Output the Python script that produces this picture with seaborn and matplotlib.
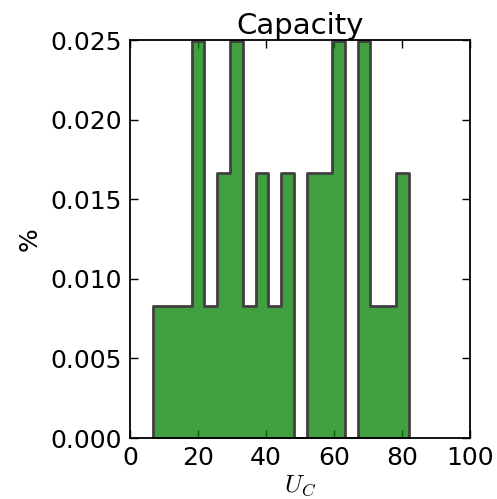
import matplotlib
matplotlib.use("Agg")
import matplotlib.pyplot as plt
import seaborn as sns
import numpy as np
import pandas as pd

# Bin centres (U_C) and counts
bin_centers = [8.74, 12.49, 16.25, 20.01, 23.77, 27.52, 31.28, 35.04, 38.80, 42.55,
               46.31, 50.07, 53.82, 57.58, 61.34, 65.10, 68.85, 72.61, 76.37, 80.12]
counts = [1, 1, 1, 3, 1, 2, 3, 1, 2, 1, 2, 0, 2, 2, 3, 0, 3, 1, 1, 2]
data_range = (6.86, 82.0)
n_bins = 20

df = pd.DataFrame({"U": bin_centers, "w": counts})

sns.set_theme(style="white")
plt.rcParams['font.family'] = ['DejaVu Sans']
plt.rcParams['mathtext.fontset'] = 'cm'
plt.rcParams['text.color'] = 'black'
plt.rcParams['axes.labelcolor'] = 'black'
plt.rcParams['xtick.color'] = 'black'
plt.rcParams['ytick.color'] = 'black'

fig = plt.figure(figsize=(4.97, 4.99), dpi=100)
ax = fig.add_axes([130/497, 1-438/499, 340/497, 398/499])

sns.histplot(data=df, x="U", weights="w", bins=n_bins, binrange=data_range,
             stat="density", element="step", fill=True, ax=ax,
             color="g", alpha=0.75, linewidth=2, edgecolor=(0.25, 0.25, 0.25))
for coll in ax.collections:
    coll.set_facecolor((0, 0.5, 0, 0.75))
    coll.set_edgecolor((0.25, 0.25, 0.25, 1))
    coll.set_linewidth(2)

ax.set_xlim(0, 100)
ax.set_ylim(0, 0.025)
ax.set_xticks([0, 20, 40, 60, 80, 100])
ax.set_yticks([0.0, 0.005, 0.010, 0.015, 0.020, 0.025])
ax.set_yticklabels(["0.000", "0.005", "0.010", "0.015", "0.020", "0.025"])
ax.tick_params(direction="in", top=True, right=True, left=True, bottom=True,
               length=6, width=1, labelsize=18, color="black",
               labelcolor="black", pad=6)
for s in ax.spines.values():
    s.set_color("black")
    s.set_linewidth(1.3)
ax.set_title("Capacity", fontsize=21, pad=4, color="black")
ax.set_ylabel("%", fontsize=18, labelpad=6, color="black")
ax.set_xlabel("$U_C$", fontsize=18, labelpad=2, color="black")

fig.savefig("out.png", dpi=100)
